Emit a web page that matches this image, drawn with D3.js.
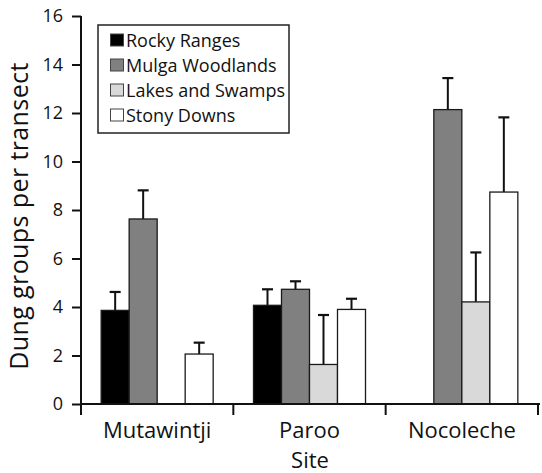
<!DOCTYPE html>
<html>
<head>
<meta charset="utf-8">
<script src="https://cdn.jsdelivr.net/npm/d3@7"></script>
<style>
  body { margin: 0; background: #fff; }
  text { font-family: "Open Sans", sans-serif; fill: #111; }
</style>
</head>
<body>
<div id="chart"></div>
<script>
var sites = ['Mutawintji', 'Paroo', 'Nocoleche'];
var habitats = ['Rocky Ranges', 'Mulga Woodlands', 'Lakes and Swamps', 'Stony Downs'];
var habitatColors = ['#000000', '#808080', '#d9d9d9', '#ffffff'];
var yTicks = [0, 2, 4, 6, 8, 10, 12, 14, 16];

// mean and upper error bar, one array per habitat (null = not sampled)
var rockyMean = [3.86, 4.07, null];
var rockyErr = [4.62, 4.73, null];
var mulgaMean = [7.63, 4.73, 12.14];
var mulgaErr = [8.81, 5.06, 13.44];
var lakesMean = [null, 1.63, 4.21];
var lakesErr = [null, 3.67, 6.25];
var stonyMean = [2.06, 3.90, 8.74];
var stonyErr = [2.53, 4.34, 11.82];

var means = [rockyMean, mulgaMean, lakesMean, stonyMean];
var errs = [rockyErr, mulgaErr, lakesErr, stonyErr];

var width = 542;
var height = 473;
var plot = {left: 81, right: 538, top: 16, bottom: 404};

var svg = d3.select('#chart').append('svg')
  .attr('width', width)
  .attr('height', height);

var x0 = d3.scaleBand()
  .domain(sites)
  .range([plot.left, plot.right]);

var x1 = d3.scaleBand()
  .domain(habitats)
  .range([0, x0.bandwidth()])
  .paddingOuter(0.72);

var y = d3.scaleLinear()
  .domain([0, 16])
  .range([plot.bottom, plot.top]);

var rows = [];
sites.forEach(function (site, i) {
  habitats.forEach(function (h, j) {
    if (means[j][i] !== null) {
      rows.push({site: site, habitat: h, color: habitatColors[j], mean: means[j][i], err: errs[j][i]});
    }
  });
});

_drawBars(rows);
_drawAxes();
_drawLegend();

function _barMid (d) {
  return x0(d.site) + x1(d.habitat) + x1.bandwidth() / 2;
}

function _drawBars (rows) {
  var bars = svg.selectAll('.bar')
    .data(rows)
    .enter()
    .append('g')
    .attr('class', 'bar');

  // error bars first so the bar outline sits on top
  bars.append('line')
    .attr('x1', _barMid)
    .attr('x2', _barMid)
    .attr('y1', function (d) { return y(d.mean); })
    .attr('y2', function (d) { return y(d.err); })
    .style('stroke', '#111')
    .style('stroke-width', 2);

  bars.append('line')
    .attr('x1', function (d) { return _barMid(d) - 5.5; })
    .attr('x2', function (d) { return _barMid(d) + 5.5; })
    .attr('y1', function (d) { return y(d.err); })
    .attr('y2', function (d) { return y(d.err); })
    .style('stroke', '#111')
    .style('stroke-width', 2.2);

  bars.append('rect')
    .attr('x', function (d) { return x0(d.site) + x1(d.habitat); })
    .attr('y', function (d) { return y(d.mean); })
    .attr('width', x1.bandwidth())
    .attr('height', function (d) { return y(0) - y(d.mean); })
    .style('fill', function (d) { return d.color; })
    .style('stroke', '#1a1a1a')
    .style('stroke-width', 1.3);
}

function _drawAxes () {
  var yAxis = svg.append('g')
    .attr('transform', 'translate(' + plot.left + ',0)')
    .call(d3.axisLeft(y).tickValues(yTicks).tickSize(9).tickPadding(9).tickFormat(d3.format('d')));

  yAxis.select('.domain').remove();
  yAxis.selectAll('.tick line').style('stroke', '#111').style('stroke-width', 2);
  yAxis.selectAll('.tick text')
    .style('font-size', '18px')
    .style('font-family', '"Open Sans", sans-serif')
    .style('fill', '#111');

  yAxis.append('line')
    .attr('x1', 0).attr('x2', 0)
    .attr('y1', y(16)).attr('y2', plot.bottom + 11)
    .style('stroke', '#111')
    .style('stroke-width', 2);

  // x axis: baseline plus ticks between sites
  var bounds = sites.map(function (s) { return x0(s) + x0.bandwidth(); });

  svg.append('line')
    .attr('x1', plot.left)
    .attr('x2', 540)
    .attr('y1', y(0))
    .attr('y2', y(0))
    .style('stroke', '#111')
    .style('stroke-width', 2);

  svg.selectAll('.sep')
    .data(bounds)
    .enter()
    .append('line')
    .attr('class', 'sep')
    .attr('x1', function (d) { return d; })
    .attr('x2', function (d) { return d; })
    .attr('y1', y(0))
    .attr('y2', plot.bottom + 11)
    .style('stroke', '#111')
    .style('stroke-width', 2);

  svg.selectAll('.site')
    .data(sites)
    .enter()
    .append('text')
    .attr('class', 'site')
    .attr('x', function (d) { return x0(d) + x0.bandwidth() / 2; })
    .attr('y', 438)
    .attr('text-anchor', 'middle')
    .style('font-size', '22px')
    .text(function (d) { return d; });

  svg.append('text')
    .attr('x', 310)
    .attr('y', 468)
    .attr('text-anchor', 'middle')
    .style('font-size', '22px')
    .text('Site');

  svg.append('text')
    .attr('transform', 'translate(28,216) rotate(-90)')
    .attr('text-anchor', 'middle')
    .style('font-size', '25px')
    .style('letter-spacing', '0.4px')
    .text('Dung groups per transect');
}

function _drawLegend () {
  var legend = svg.append('g')
    .attr('transform', 'translate(98,25)');

  legend.append('rect')
    .attr('width', 191)
    .attr('height', 108)
    .style('fill', '#fff')
    .style('stroke', '#222')
    .style('stroke-width', 1.5);

  var items = legend.selectAll('.item')
    .data(habitats)
    .enter()
    .append('g')
    .attr('class', 'item')
    .attr('transform', function (d, i) { return 'translate(12,' + (15 + i * 25) + ')'; });

  items.append('rect')
    .attr('x', 0.5)
    .attr('y', -6)
    .attr('width', 13)
    .attr('height', 12)
    .style('fill', function (d, i) { return habitatColors[i]; })
    .style('stroke', '#444')
    .style('stroke-width', 1);

  items.append('text')
    .attr('x', 16)
    .attr('y', 7)
    .style('font-size', '18px')
    .text(function (d) { return d; });
}
</script>
</body>
</html>
